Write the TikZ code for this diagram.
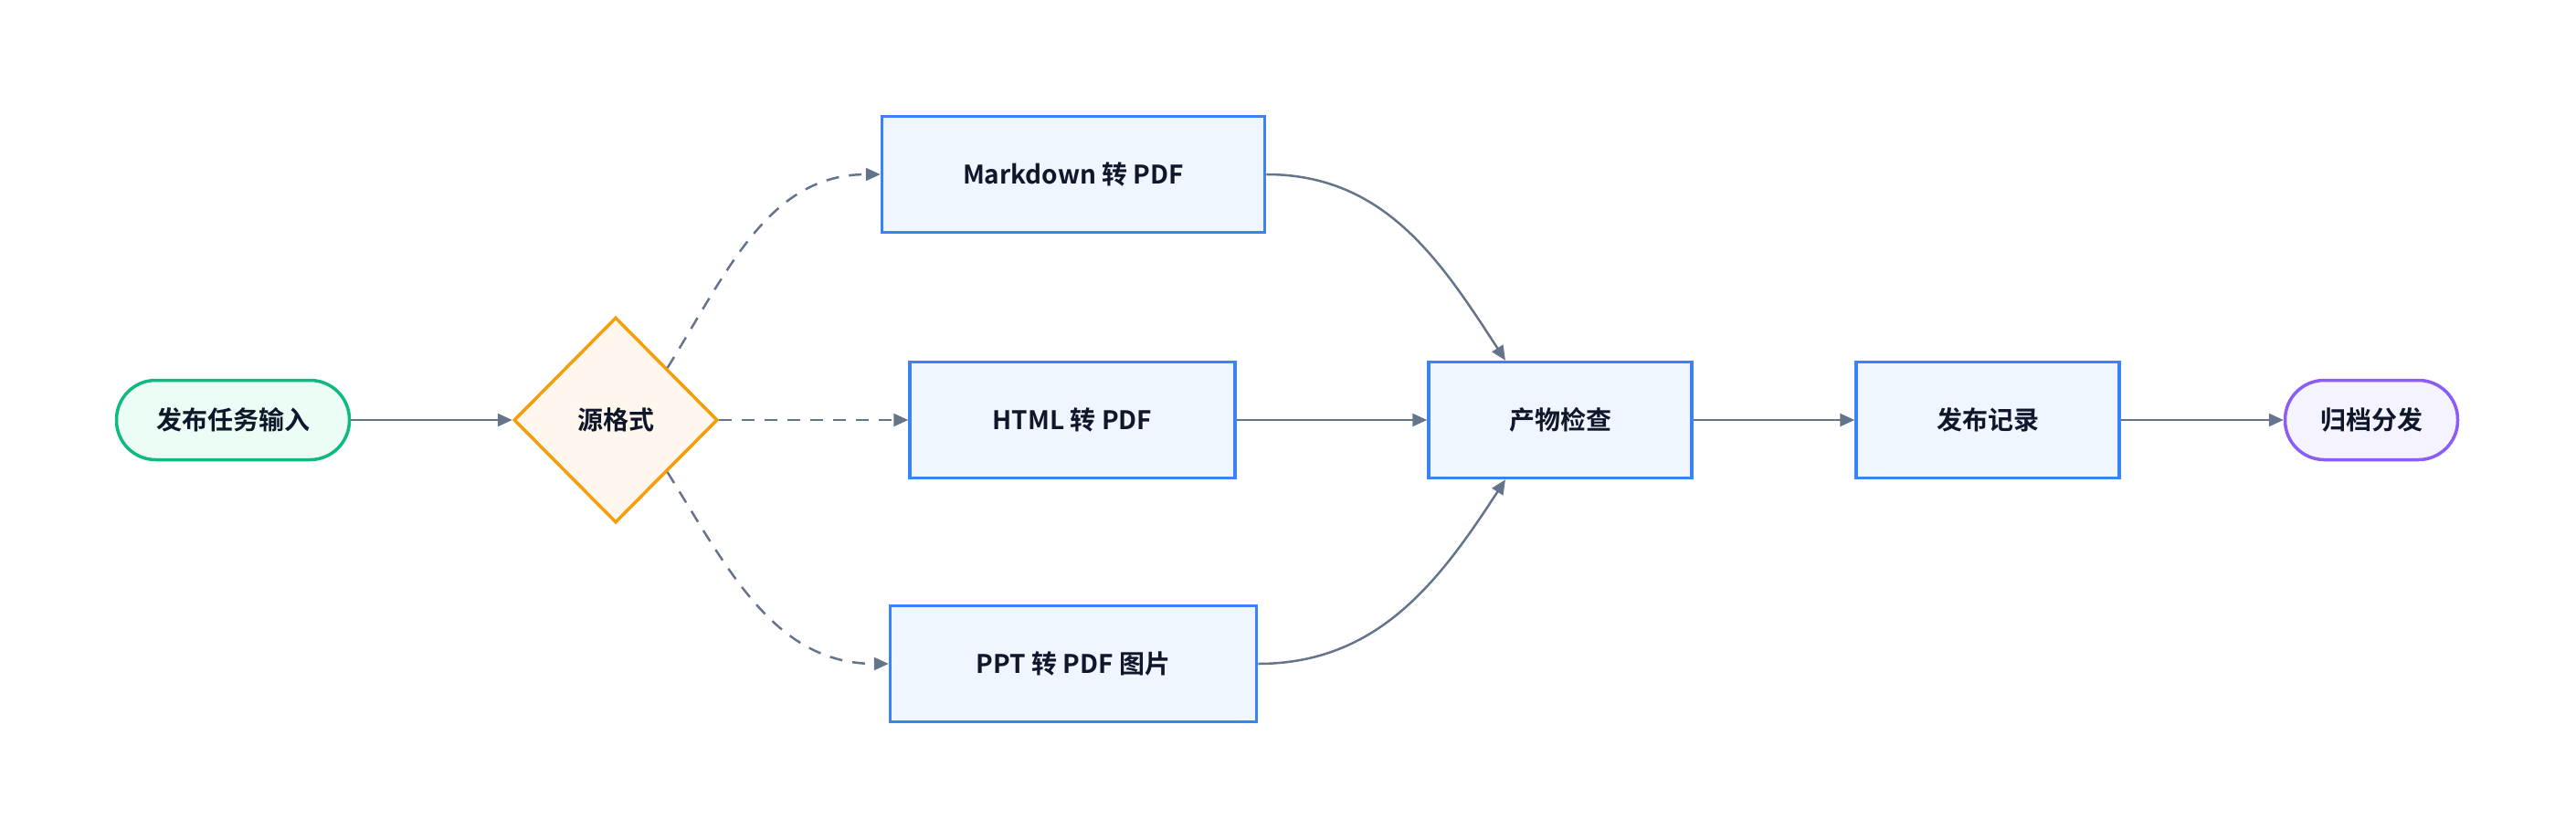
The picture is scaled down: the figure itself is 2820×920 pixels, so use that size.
\documentclass[tikz,border=0pt]{standalone}
\usepackage{fontspec}
\setmainfont{Noto Sans CJK SC}[BoldFont={* Bold}]
\usetikzlibrary{shapes.geometric,arrows.meta,calc}
\definecolor{edge}{HTML}{64748B}
\definecolor{bstroke}{HTML}{3B82F6}\definecolor{bfill}{HTML}{EFF6FF}
\definecolor{gstroke}{HTML}{10B981}\definecolor{gfill}{HTML}{ECFDF5}
\definecolor{ostroke}{HTML}{F59E0B}\definecolor{ofill}{HTML}{FFF7ED}
\definecolor{pstroke}{HTML}{8B5CF6}\definecolor{pfill}{HTML}{F5F3FF}
\definecolor{txt}{HTML}{0F172A}
\begin{document}
\begin{tikzpicture}[x=1pt,y=-1pt,
  base/.style={line width=3.5pt,font=\fontsize{28}{32}\selectfont\bfseries,text=txt,inner sep=0pt},
  box/.style={base,draw=bstroke,fill=bfill,rectangle,minimum height=127pt},
  pill/.style={base,rounded rectangle,minimum height=87pt},
  ar/.style={draw=edge,line width=2.5pt,-{Triangle[length=16pt,width=14pt]}},
  da/.style={ar,dash pattern=on 14pt off 11pt}]
\useasboundingbox (0,0) rectangle (2820,920);
\tikzset{rounded rectangle/.style={rectangle,rounded corners=43pt}}
\node[base,draw=gstroke,fill=gfill,rounded corners=43pt,minimum width=255pt,minimum height=87pt] (s) at (255,460) {发布任务输入};
\node[base,draw=ostroke,fill=ofill,diamond,minimum width=223pt,minimum height=225pt] (d) at (674,460) {源格式};
\node[box,minimum width=419pt] (md) at (1175,191) {Markdown 转 PDF};
\node[box,minimum width=356pt] (h) at (1174,460) {HTML 转 PDF};
\node[box,minimum width=401pt] (pp) at (1175,727) {PPT 转 PDF 图片};
\node[box,minimum width=288pt] (p) at (1708,460) {产物检查};
\node[box,minimum width=288pt] (r) at (2176,460) {发布记录};
\node[base,draw=pstroke,fill=pfill,rounded corners=43pt,minimum width=189pt,minimum height=87pt] (e) at (2596,460) {归档分发};
\coordinate (pn) at ($(p.north)+(-60,0)$);
\coordinate (ps) at ($(p.south)+(-60,0)$);
\draw[ar] (s.east) -- (d.west);
\draw[da] (d.north east) to[out=58,in=180] (md.west);
\draw[da] (d.east) -- (h.west);
\draw[da] (d.south east) to[out=-58,in=180] (pp.west);
\draw[ar] (md.east) to[out=0,in=123] (pn);
\draw[ar] (h.east) -- (p.west);
\draw[ar] (pp.east) to[out=0,in=-123] (ps);
\draw[ar] (p.east) -- (r.west);
\draw[ar] (r.east) -- (e.west);
\end{tikzpicture}
\end{document}
